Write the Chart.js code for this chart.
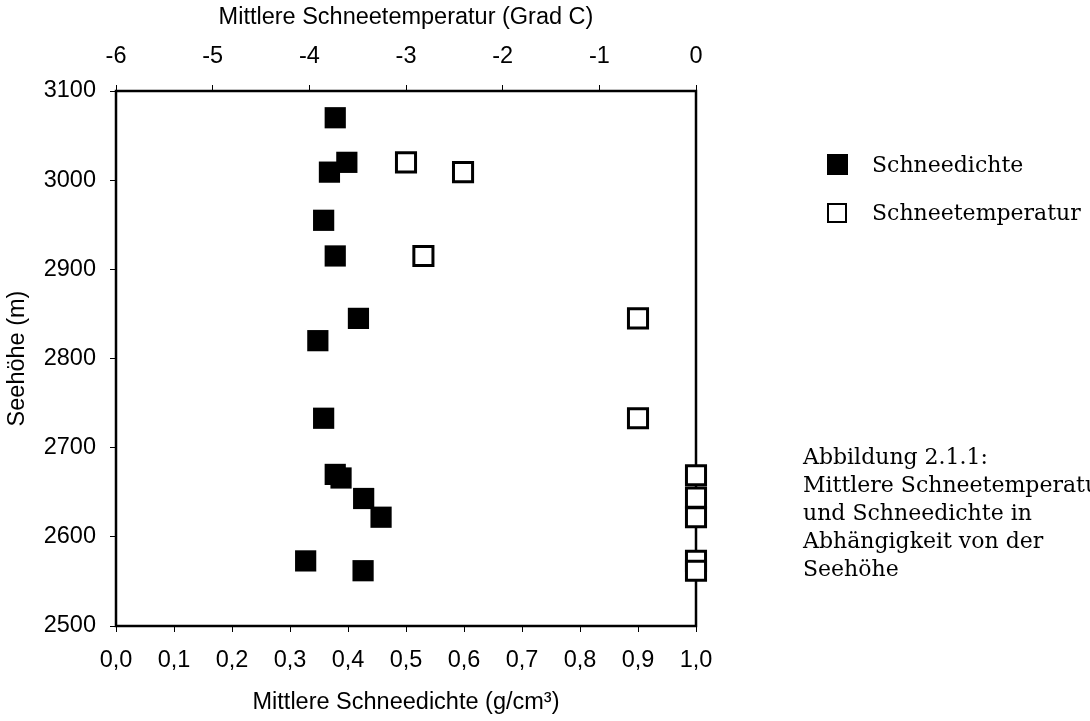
<!doctype html>
<html lang="de">
    <head>
        <meta charset="utf-8">
        <script src="https://cdn.jsdelivr.net/npm/chart.js"></script>
        <title>Schneedichte und Schneetemperatur</title>
        <style>
        html, body {
            margin: 0;
            padding: 0;
            background: #ffffff;
            width: 1090px;
            height: 721px;
            overflow: hidden;
        }
        #wrap {
            position: relative;
            width: 1090px;
            height: 721px;
        }
        .legend-row {
            position: absolute;
            left: 827px;
            height: 28px;
            font-family: "DejaVu Serif", serif;
            font-size: 22px;
            line-height: 28px;
            white-space: nowrap;
        }
        .legend-row .box {
            display: inline-block;
            width: 21px;
            height: 21px;
            box-sizing: border-box;
            vertical-align: -3px;
            margin-right: 24px;
        }
        #caption {
            position: absolute;
            left: 803px;
            top: 443px;
            font-family: "DejaVu Serif", serif;
            font-size: 22px;
            line-height: 28px;
            white-space: nowrap;
        }
        </style>
    </head>
    <body>
        <div id="wrap">
            <canvas id="chart" width="1090" height="721"></canvas>
            <div id="legend"></div>
            <div id="caption">Abbildung 2.1.1:<br>Mittlere Schneetemperatur<br>und Schneedichte in<br>Abhängigkeit von der<br>Seehöhe</div>
        </div>
        <script>
        // Seehöhe (m) der Messpunkte
        const dichteHoehe = [3070, 3020, 3009, 2955, 2915, 2845, 2820, 2733, 2670, 2666, 2643, 2622, 2573, 2562];
        // Mittlere Schneedichte (g/cm3)
        const dichteWerte = [0.378, 0.398, 0.368, 0.358, 0.378, 0.418, 0.348, 0.358, 0.378, 0.388, 0.427, 0.457, 0.327, 0.426];

        const tempHoehe = [3020, 3009, 2915, 2845, 2733, 2669, 2644, 2622, 2573, 2562];
        // Mittlere Schneetemperatur (Grad C)
        const tempWerte = [-3.0, -2.41, -2.82, -0.6, -0.6, 0, 0, 0, 0, 0];

        const dichteTicks = [0, 0.1, 0.2, 0.3, 0.4, 0.5, 0.6, 0.7, 0.8, 0.9, 1.0];
        const tempTicks = [-6, -5, -4, -3, -2, -1, 0];
        const hoeheTicks = [2500, 2600, 2700, 2800, 2900, 3000, 3100];

        const axisFont = { family: '"Liberation Sans", Arial, sans-serif', size: 23.5 };
        const titleFont = { family: '"Liberation Sans", Arial, sans-serif', size: 23.5 };

        // Rahmen um die Zeichenfläche, unter den Punkten
        const framePlugin = {
            id: 'frame',
            beforeDatasetsDraw(chart) {
                const { ctx, chartArea: a } = chart;
                ctx.save();
                ctx.strokeStyle = '#000';
                ctx.lineWidth = 2.5;
                ctx.strokeRect(a.left, a.top, a.right - a.left, a.bottom - a.top);
                ctx.restore();
            }
        };

        function fixedTicks(list) {
            return function (scale) {
                scale.ticks = list.map(v => ({ value: v }));
            };
        }

        const chart = new Chart(document.getElementById('chart'), {
            type: 'scatter',
            data: {
                datasets: [{
                    label: 'Schneedichte',
                    data: dichteWerte.map((v, i) => ({ x: v, y: dichteHoehe[i] })),
                    xAxisID: 'x',
                    yAxisID: 'y',
                    pointStyle: 'rect',
                    pointRadius: 15,
                    pointHoverRadius: 15,
                    backgroundColor: '#000',
                    borderColor: '#000',
                    borderWidth: 0,
                    clip: 20
                }, {
                    label: 'Schneetemperatur',
                    data: tempWerte.map((v, i) => ({ x: v, y: tempHoehe[i] })),
                    xAxisID: 'x2',
                    yAxisID: 'y',
                    pointStyle: 'rect',
                    pointRadius: 13.5,
                    pointHoverRadius: 13.5,
                    backgroundColor: '#fff',
                    borderColor: '#000',
                    borderWidth: 3,
                    clip: 20
                }]
            },
            options: {
                responsive: false,
                animation: false,
                layout: { padding: { left: 0, top: 0, bottom: 0, right: 394 } },
                plugins: {
                    legend: { display: false },
                    tooltip: { enabled: false }
                },
                scales: {
                    x: {
                        type: 'linear',
                        position: 'bottom',
                        min: 0,
                        max: 1,
                        afterBuildTicks: fixedTicks(dichteTicks),
                        afterFit(scale) { scale.height = 95; },
                        grid: { drawOnChartArea: false, tickLength: 6, color: '#000', tickWidth: 1 },
                        border: { display: false },
                        ticks: {
                            font: axisFont,
                            color: '#000',
                            padding: 14,
                            maxRotation: 0,
                            callback: v => v.toFixed(1).replace('.', ',')
                        },
                        title: {
                            display: true,
                            text: 'Mittlere Schneedichte (g/cm³)',
                            font: titleFont,
                            color: '#000',
                            padding: { top: 0, bottom: 4 }
                        }
                    },
                    x2: {
                        type: 'linear',
                        position: 'top',
                        min: -6,
                        max: 0,
                        afterBuildTicks: fixedTicks(tempTicks),
                        afterFit(scale) { scale.height = 91; },
                        grid: { drawOnChartArea: false, tickLength: 6, color: '#000', tickWidth: 1 },
                        border: { display: false },
                        ticks: {
                            font: axisFont,
                            color: '#000',
                            padding: 14,
                            maxRotation: 0,
                            callback: v => String(v)
                        },
                        title: {
                            display: true,
                            text: 'Mittlere Schneetemperatur (Grad C)',
                            font: titleFont,
                            color: '#000',
                            padding: { top: 3, bottom: 0 }
                        }
                    },
                    y: {
                        type: 'linear',
                        position: 'left',
                        min: 2500,
                        max: 3100,
                        afterBuildTicks: fixedTicks(hoeheTicks),
                        afterFit(scale) { scale.width = 116; },
                        grid: { drawOnChartArea: false, tickLength: 6, color: '#000', tickWidth: 1 },
                        border: { display: false },
                        ticks: {
                            font: axisFont,
                            color: '#000',
                            padding: 14,
                            callback: v => String(v)
                        },
                        title: {
                            display: true,
                            text: 'Seehöhe (m)',
                            font: titleFont,
                            color: '#000',
                            padding: { top: 3, bottom: 0 }
                        }
                    }
                }
            },
            plugins: [framePlugin]
        });

        // Legende aus den Datensätzen
        const legendTops = [151, 199];
        const legendEl = document.getElementById('legend');
        chart.data.datasets.forEach((ds, i) => {
            const row = document.createElement('div');
            row.className = 'legend-row';
            row.style.top = legendTops[i] + 'px';
            const box = document.createElement('span');
            box.className = 'box';
            box.style.background = ds.backgroundColor;
            if (i === 1) {
                box.style.border = '2.5px solid #000';
                box.style.width = '20px';
                box.style.height = '20px';
                box.style.marginRight = '25px';
            }
            row.appendChild(box);
            row.appendChild(document.createTextNode(ds.label));
            legendEl.appendChild(row);
        });
        </script>
    </body>
</html>
